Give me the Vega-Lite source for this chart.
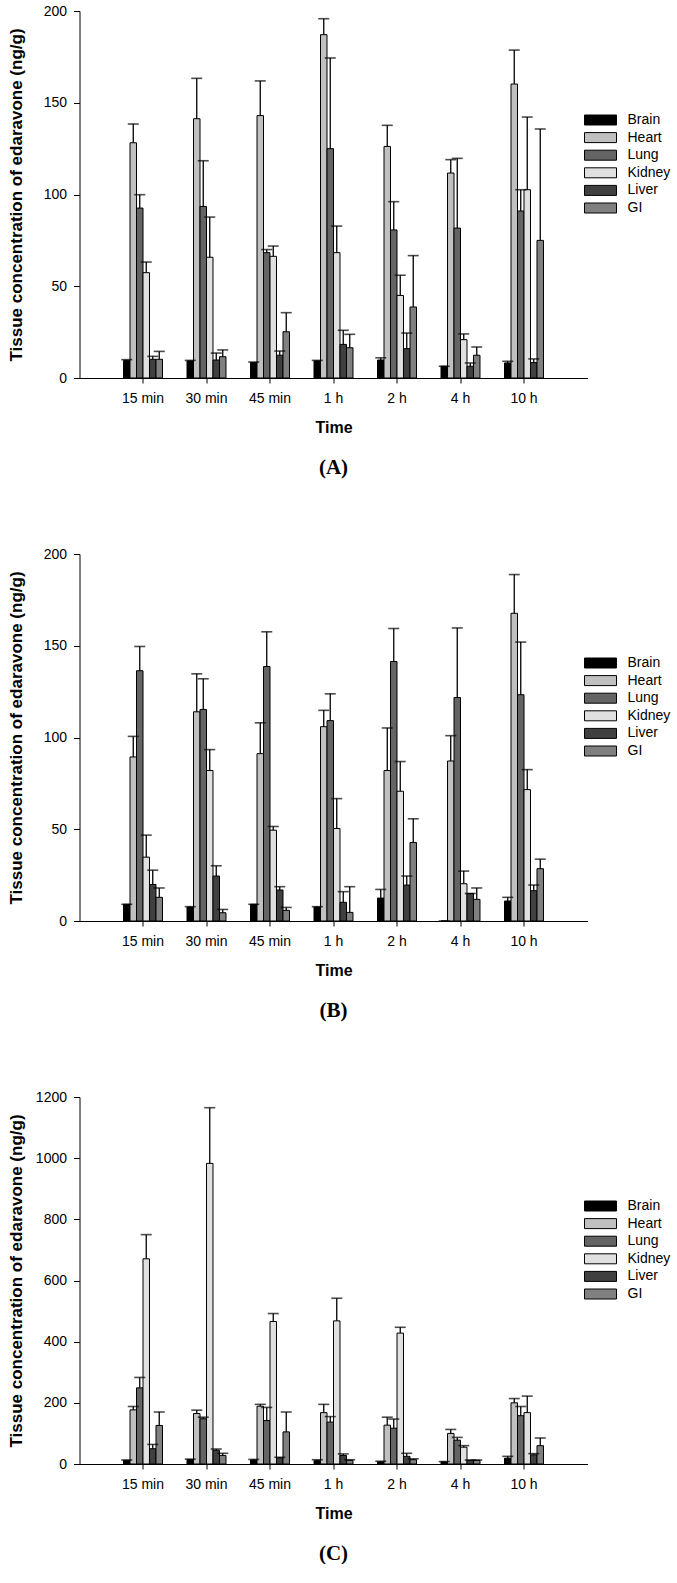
{
  "$schema": "https://vega.github.io/schema/vega-lite/v6.json",
  "padding": {"left": 7.5, "top": 4, "right": 0, "bottom": 0},
  "background": "white",
  "bounds": "flush",
  "spacing": 176,
  "config": {
    "view": {"stroke": null},
    "font": "Liberation Sans",
    "axis": {
      "grid": false,
      "domainColor": "black",
      "domainWidth": 1,
      "tickColor": "black",
      "tickWidth": 1,
      "labelColor": "black",
      "labelFont": "Liberation Sans",
      "labelFontSize": 14,
      "titleColor": "black",
      "titleFont": "Liberation Sans",
      "titleFontWeight": "bold"
    },
    "axisX": {"tickSize": 5, "labelPadding": 8, "labelAngle": 0, "titleFontSize": 16, "titlePadding": 14},
    "axisY": {"tickSize": 6, "labelPadding": 7, "format": "d", "titleFontSize": 17, "titleX": -63, "titleY": 183.5, "titleAlign": "center", "titleBaseline": "middle", "titleAngle": -90},
    "legend": {
      "orient": "none",
      "legendX": 514,
      "legendY": 102,
      "title": null,
      "padding": 0,
      "symbolType": "M-3.2,-1H3.2V1H-3.2Z",
      "symbolSize": 100,
      "symbolStrokeColor": "black",
      "symbolStrokeWidth": 1,
      "labelOffset": 20,
      "labelFont": "Liberation Sans",
      "labelFontSize": 14,
      "labelColor": "black",
      "rowPadding": 3.6
    },
    "title": {"font": "Liberation Serif", "fontSize": 21, "fontWeight": "bold", "color": "black", "orient": "bottom", "anchor": "middle", "offset": 22}
  },
  "datasets": {
    "d": [
      {"p":"A","t":"15 min","o":"Brain","v":9.6,"u":10},
      {"p":"A","t":"15 min","o":"Heart","v":128.2,"u":138.4},
      {"p":"A","t":"15 min","o":"Lung","v":92.6,"u":99.9},
      {"p":"A","t":"15 min","o":"Kidney","v":57.4,"u":63.2},
      {"p":"A","t":"15 min","o":"Liver","v":10.2,"u":11.8},
      {"p":"A","t":"15 min","o":"GI","v":10.2,"u":14.5},
      {"p":"A","t":"30 min","o":"Brain","v":9.3,"u":9.6},
      {"p":"A","t":"30 min","o":"Heart","v":141.3,"u":163.3},
      {"p":"A","t":"30 min","o":"Lung","v":93.5,"u":118.4},
      {"p":"A","t":"30 min","o":"Kidney","v":65.8,"u":87.7},
      {"p":"A","t":"30 min","o":"Liver","v":9.8,"u":13.6},
      {"p":"A","t":"30 min","o":"GI","v":11.6,"u":15.3},
      {"p":"A","t":"45 min","o":"Brain","v":8.4,"u":8.7},
      {"p":"A","t":"45 min","o":"Heart","v":143,"u":161.9},
      {"p":"A","t":"45 min","o":"Lung","v":68.3,"u":70},
      {"p":"A","t":"45 min","o":"Kidney","v":66.3,"u":71.9},
      {"p":"A","t":"45 min","o":"Liver","v":12.4,"u":14.7},
      {"p":"A","t":"45 min","o":"GI","v":25.2,"u":35.6},
      {"p":"A","t":"1 h","o":"Brain","v":9.3,"u":9.6},
      {"p":"A","t":"1 h","o":"Heart","v":187.1,"u":195.8},
      {"p":"A","t":"1 h","o":"Lung","v":125,"u":174.4},
      {"p":"A","t":"1 h","o":"Kidney","v":68.3,"u":82.8},
      {"p":"A","t":"1 h","o":"Liver","v":18.3,"u":26},
      {"p":"A","t":"1 h","o":"GI","v":16.5,"u":23.8},
      {"p":"A","t":"2 h","o":"Brain","v":9.8,"u":11},
      {"p":"A","t":"2 h","o":"Heart","v":126.2,"u":137.7},
      {"p":"A","t":"2 h","o":"Lung","v":80.7,"u":96.1},
      {"p":"A","t":"2 h","o":"Kidney","v":45,"u":56},
      {"p":"A","t":"2 h","o":"Liver","v":16,"u":24.5},
      {"p":"A","t":"2 h","o":"GI","v":38.7,"u":66.7},
      {"p":"A","t":"4 h","o":"Brain","v":6.4,"u":6.4},
      {"p":"A","t":"4 h","o":"Heart","v":111.7,"u":119},
      {"p":"A","t":"4 h","o":"Lung","v":81.7,"u":119.7},
      {"p":"A","t":"4 h","o":"Kidney","v":20.9,"u":24},
      {"p":"A","t":"4 h","o":"Liver","v":6.4,"u":8.2},
      {"p":"A","t":"4 h","o":"GI","v":12.4,"u":16.9},
      {"p":"A","t":"10 h","o":"Brain","v":8.2,"u":9.1},
      {"p":"A","t":"10 h","o":"Heart","v":160.2,"u":178.7},
      {"p":"A","t":"10 h","o":"Lung","v":91,"u":102.6},
      {"p":"A","t":"10 h","o":"Kidney","v":102.6,"u":142.2},
      {"p":"A","t":"10 h","o":"Liver","v":8.4,"u":10.4},
      {"p":"A","t":"10 h","o":"GI","v":75,"u":135.7},

      {"p":"B","t":"15 min","o":"Brain","v":9.1,"u":9.1},
      {"p":"B","t":"15 min","o":"Heart","v":89.4,"u":100.6},
      {"p":"B","t":"15 min","o":"Lung","v":136.4,"u":149.6},
      {"p":"B","t":"15 min","o":"Kidney","v":34.8,"u":46.8},
      {"p":"B","t":"15 min","o":"Liver","v":19.9,"u":27.7},
      {"p":"B","t":"15 min","o":"GI","v":12.9,"u":18},
      {"p":"B","t":"30 min","o":"Brain","v":7.6,"u":7.8},
      {"p":"B","t":"30 min","o":"Heart","v":114,"u":134.7},
      {"p":"B","t":"30 min","o":"Lung","v":115.3,"u":132},
      {"p":"B","t":"30 min","o":"Kidney","v":82,"u":93.4},
      {"p":"B","t":"30 min","o":"Liver","v":24.5,"u":30.1},
      {"p":"B","t":"30 min","o":"GI","v":4.5,"u":6.3},
      {"p":"B","t":"45 min","o":"Brain","v":9.1,"u":9.1},
      {"p":"B","t":"45 min","o":"Heart","v":91.2,"u":108},
      {"p":"B","t":"45 min","o":"Lung","v":138.7,"u":157.6},
      {"p":"B","t":"45 min","o":"Kidney","v":49.5,"u":51.5},
      {"p":"B","t":"45 min","o":"Liver","v":16.9,"u":18.7},
      {"p":"B","t":"45 min","o":"GI","v":5.8,"u":7.4},
      {"p":"B","t":"1 h","o":"Brain","v":7.6,"u":7.8},
      {"p":"B","t":"1 h","o":"Heart","v":105.9,"u":114.8},
      {"p":"B","t":"1 h","o":"Lung","v":109.2,"u":123.8},
      {"p":"B","t":"1 h","o":"Kidney","v":50.4,"u":66.7},
      {"p":"B","t":"1 h","o":"Liver","v":10.2,"u":16},
      {"p":"B","t":"1 h","o":"GI","v":4.7,"u":18.7},
      {"p":"B","t":"2 h","o":"Brain","v":12.5,"u":17.2},
      {"p":"B","t":"2 h","o":"Heart","v":82,"u":105.2},
      {"p":"B","t":"2 h","o":"Lung","v":141.4,"u":159.4},
      {"p":"B","t":"2 h","o":"Kidney","v":70.7,"u":86.9},
      {"p":"B","t":"2 h","o":"Liver","v":19.6,"u":24.5},
      {"p":"B","t":"2 h","o":"GI","v":42.8,"u":55.7},
      {"p":"B","t":"4 h","o":"Brain","v":0,"u":0},
      {"p":"B","t":"4 h","o":"Heart","v":87.2,"u":101},
      {"p":"B","t":"4 h","o":"Lung","v":121.8,"u":159.7},
      {"p":"B","t":"4 h","o":"Kidney","v":20.3,"u":27.2},
      {"p":"B","t":"4 h","o":"Liver","v":15,"u":15},
      {"p":"B","t":"4 h","o":"GI","v":11.8,"u":18},
      {"p":"B","t":"10 h","o":"Brain","v":10.9,"u":12.9},
      {"p":"B","t":"10 h","o":"Heart","v":167.7,"u":188.8},
      {"p":"B","t":"10 h","o":"Lung","v":123.3,"u":152},
      {"p":"B","t":"10 h","o":"Kidney","v":71.6,"u":82.5},
      {"p":"B","t":"10 h","o":"Liver","v":16.5,"u":19.6},
      {"p":"B","t":"10 h","o":"GI","v":28.5,"u":33.7},

      {"p":"C","t":"15 min","o":"Brain","v":12,"u":13},
      {"p":"C","t":"15 min","o":"Heart","v":177,"u":188},
      {"p":"C","t":"15 min","o":"Lung","v":249,"u":283},
      {"p":"C","t":"15 min","o":"Kidney","v":671,"u":750},
      {"p":"C","t":"15 min","o":"Liver","v":50,"u":64},
      {"p":"C","t":"15 min","o":"GI","v":126,"u":170},
      {"p":"C","t":"30 min","o":"Brain","v":14,"u":16},
      {"p":"C","t":"30 min","o":"Heart","v":165,"u":176},
      {"p":"C","t":"30 min","o":"Lung","v":148,"u":153},
      {"p":"C","t":"30 min","o":"Kidney","v":983,"u":1165},
      {"p":"C","t":"30 min","o":"Liver","v":45,"u":49},
      {"p":"C","t":"30 min","o":"GI","v":28,"u":35},
      {"p":"C","t":"45 min","o":"Brain","v":13,"u":15},
      {"p":"C","t":"45 min","o":"Heart","v":189,"u":195},
      {"p":"C","t":"45 min","o":"Lung","v":142,"u":185},
      {"p":"C","t":"45 min","o":"Kidney","v":466,"u":492},
      {"p":"C","t":"45 min","o":"Liver","v":20,"u":22},
      {"p":"C","t":"45 min","o":"GI","v":105,"u":170},
      {"p":"C","t":"1 h","o":"Brain","v":11,"u":14},
      {"p":"C","t":"1 h","o":"Heart","v":168,"u":195},
      {"p":"C","t":"1 h","o":"Lung","v":137,"u":155},
      {"p":"C","t":"1 h","o":"Kidney","v":468,"u":542},
      {"p":"C","t":"1 h","o":"Liver","v":28,"u":33},
      {"p":"C","t":"1 h","o":"GI","v":12,"u":14},
      {"p":"C","t":"2 h","o":"Brain","v":7,"u":9},
      {"p":"C","t":"2 h","o":"Heart","v":127,"u":153},
      {"p":"C","t":"2 h","o":"Lung","v":117,"u":147},
      {"p":"C","t":"2 h","o":"Kidney","v":428,"u":447},
      {"p":"C","t":"2 h","o":"Liver","v":25,"u":35},
      {"p":"C","t":"2 h","o":"GI","v":14,"u":17},
      {"p":"C","t":"4 h","o":"Brain","v":7,"u":8},
      {"p":"C","t":"4 h","o":"Heart","v":100,"u":113},
      {"p":"C","t":"4 h","o":"Lung","v":78,"u":87},
      {"p":"C","t":"4 h","o":"Kidney","v":55,"u":60},
      {"p":"C","t":"4 h","o":"Liver","v":12,"u":13},
      {"p":"C","t":"4 h","o":"GI","v":12,"u":13},
      {"p":"C","t":"10 h","o":"Brain","v":19,"u":25},
      {"p":"C","t":"10 h","o":"Heart","v":200,"u":214},
      {"p":"C","t":"10 h","o":"Lung","v":158,"u":188},
      {"p":"C","t":"10 h","o":"Kidney","v":168,"u":222},
      {"p":"C","t":"10 h","o":"Liver","v":30,"u":34},
      {"p":"C","t":"10 h","o":"GI","v":60,"u":85}
    ]
  },
  "vconcat": [
    {
      "width": 508, "height": 367,
      "title": {"text": "(A)"},
      "data": {"name": "d"},
      "transform": [{"filter": "datum.p == 'A'"}],
      "encoding": {
        "x": {"field": "t", "type": "nominal", "sort": ["15 min","30 min","45 min","1 h","2 h","4 h","10 h"], "scale": {"paddingInner": 0.386, "paddingOuter": 0.693}, "axis": {"title": "Time"}},
        "xOffset": {"field": "o", "type": "nominal", "sort": ["Brain","Heart","Lung","Kidney","Liver","GI"], "scale": {"paddingInner": 0, "paddingOuter": 0}}
      },
      "layer": [
        {"mark": {"type": "bar", "stroke": "black", "strokeWidth": 1},
         "encoding": {
           "y": {"field": "v", "type": "quantitative", "scale": {"domain": [0, 200]}, "axis": {"values": [0,50,100,150,200], "title": "Tissue concentration of edaravone (ng/g)"}},
           "fill": {"field": "o", "type": "nominal", "sort": ["Brain","Heart","Lung","Kidney","Liver","GI"], "scale": {"domain": ["Brain","Heart","Lung","Kidney","Liver","GI"], "range": ["#000000","#c0c0c0","#646464","#e0e0e0","#404040","#808080"]}}
         }},
        {"mark": {"type": "rule", "color": "black", "strokeWidth": 1.3},
         "encoding": {"y": {"field": "v", "type": "quantitative"}, "y2": {"field": "u"}}},
        {"mark": {"type": "tick", "color": "black", "thickness": 1.6, "size": 11, "orient": "horizontal"},
         "encoding": {"y": {"field": "u", "type": "quantitative"}}}
      ]
    },
    {
      "width": 508, "height": 367,
      "title": {"text": "(B)"},
      "data": {"name": "d"},
      "transform": [{"filter": "datum.p == 'B'"}],
      "encoding": {
        "x": {"field": "t", "type": "nominal", "sort": ["15 min","30 min","45 min","1 h","2 h","4 h","10 h"], "scale": {"paddingInner": 0.386, "paddingOuter": 0.693}, "axis": {"title": "Time"}},
        "xOffset": {"field": "o", "type": "nominal", "sort": ["Brain","Heart","Lung","Kidney","Liver","GI"], "scale": {"paddingInner": 0, "paddingOuter": 0}}
      },
      "layer": [
        {"mark": {"type": "bar", "stroke": "black", "strokeWidth": 1},
         "encoding": {
           "y": {"field": "v", "type": "quantitative", "scale": {"domain": [0, 200]}, "axis": {"values": [0,50,100,150,200], "title": "Tissue concentration of edaravone (ng/g)"}},
           "fill": {"field": "o", "type": "nominal", "sort": ["Brain","Heart","Lung","Kidney","Liver","GI"], "scale": {"domain": ["Brain","Heart","Lung","Kidney","Liver","GI"], "range": ["#000000","#c0c0c0","#646464","#e0e0e0","#404040","#808080"]}}
         }},
        {"mark": {"type": "rule", "color": "black", "strokeWidth": 1.3},
         "encoding": {"y": {"field": "v", "type": "quantitative"}, "y2": {"field": "u"}}},
        {"mark": {"type": "tick", "color": "black", "thickness": 1.6, "size": 11, "orient": "horizontal"},
         "encoding": {"y": {"field": "u", "type": "quantitative"}}}
      ]
    },
    {
      "width": 508, "height": 367,
      "title": {"text": "(C)"},
      "data": {"name": "d"},
      "transform": [{"filter": "datum.p == 'C'"}],
      "encoding": {
        "x": {"field": "t", "type": "nominal", "sort": ["15 min","30 min","45 min","1 h","2 h","4 h","10 h"], "scale": {"paddingInner": 0.386, "paddingOuter": 0.693}, "axis": {"title": "Time"}},
        "xOffset": {"field": "o", "type": "nominal", "sort": ["Brain","Heart","Lung","Kidney","Liver","GI"], "scale": {"paddingInner": 0, "paddingOuter": 0}}
      },
      "layer": [
        {"mark": {"type": "bar", "stroke": "black", "strokeWidth": 1},
         "encoding": {
           "y": {"field": "v", "type": "quantitative", "scale": {"domain": [0, 1200]}, "axis": {"values": [0,200,400,600,800,1000,1200], "title": "Tissue concentration of edaravone (ng/g)"}},
           "fill": {"field": "o", "type": "nominal", "sort": ["Brain","Heart","Lung","Kidney","Liver","GI"], "scale": {"domain": ["Brain","Heart","Lung","Kidney","Liver","GI"], "range": ["#000000","#c0c0c0","#646464","#e0e0e0","#404040","#808080"]}}
         }},
        {"mark": {"type": "rule", "color": "black", "strokeWidth": 1.3},
         "encoding": {"y": {"field": "v", "type": "quantitative"}, "y2": {"field": "u"}}},
        {"mark": {"type": "tick", "color": "black", "thickness": 1.6, "size": 11, "orient": "horizontal"},
         "encoding": {"y": {"field": "u", "type": "quantitative"}}}
      ]
    }
  ],
  "resolve": {"scale": {"fill": "independent"}}
}
